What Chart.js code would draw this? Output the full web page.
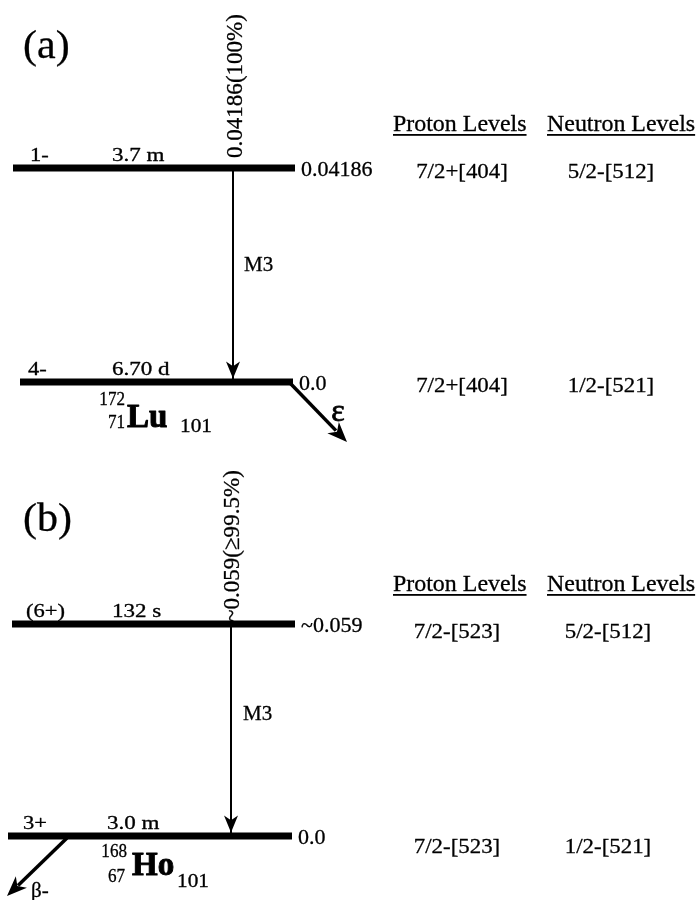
<!DOCTYPE html>
<html><head><meta charset="utf-8">
<script src="https://cdn.jsdelivr.net/npm/chart.js@4.4.1/dist/chart.umd.min.js"></script>
<style>html,body{margin:0;padding:0;background:#fff;}#wrap{position:relative;width:698px;height:900px;}
.pre{font-family:"Liberation Serif";position:absolute;left:-999px;top:0;}</style>
</head><body><span class="pre">Aa ε β ≥</span><span class="pre" style="font-weight:bold">Lu Ho</span>
<div id="wrap"><canvas id="c"></canvas></div>
<script>
// ================= DATA =================
const panelTags = ['(a)', '(b)'];
const columnHeaders = ['Proton Levels', 'Neutron Levels'];

// (a) 172Lu
const levelEnergiesA = [0.04186, 0.0];
const energyLabelsA = ['0.04186', '0.0'];
const spinsA = ['1-', '4-'];
const halfLivesA = ['3.7 m', '6.70 d'];
const protonLevelsA = ['7/2+[404]', '7/2+[404]'];
const neutronLevelsA = ['5/2-[512]', '1/2-[521]'];
const gammaLabelA = '0.04186(100%)';
const gammaMultA = 'M3';
const nuclideA = ['172', '71', 'Lu', '101'];
const decayA = 'ε';

// (b) 168Ho
const levelEnergiesB = [0.059, 0.0];
const energyLabelsB = ['~0.059', '0.0'];
const spinsB = ['(6+)', '3+'];
const halfLivesB = ['132 s', '3.0 m'];
const protonLevelsB = ['7/2-[523]', '7/2-[523]'];
const neutronLevelsB = ['5/2-[512]', '1/2-[521]'];
const gammaLabelB = '~0.059(≥99.5%)';
const gammaMultB = 'M3';
const nuclideB = ['168', '67', 'Ho', '101'];
const decayB = 'β-';

// ================= LAYOUT (pixels, styles) =================
const W = 698, H = 900;
const FONT = '"Liberation Serif", serif';
const layout = {
  a: { axis: 'ya', yTop: 168, yBot: 382, lines: [[13, 295], [20, 293]], gammaX: 233,
       tag: [23, 47], spinX: [30, 28], hlX: [112, 112], hdrY: 125, orbDy: [4, 4],
       gLabX: 236, gLabDy: -10, multXY: [244, 265],
       nuc: { massX: 125, massDy: 23, zX: 125, zDy: 46, symX: 127, symDy: 45, nX: 180, nDy: 50 },
       protX: 462, neutX: 611 },
  b: { axis: 'yb', yTop: 624, yBot: 836, lines: [[12, 295], [8, 292]], gammaX: 231,
       tag: [23, 520], spinX: [26, 23], hlX: [112, 107], hdrY: 585, orbDy: [8, 11],
       gLabX: 233, gLabDy: -2, multXY: [243, 714],
       nuc: { massX: 127, massDy: 21, zX: 125, zDy: 46, symX: 132, symDy: 39, nX: 177, nDy: 51 },
       protX: 457, neutX: 608 }
};

function axisRange(E, yTop, yBot) {
  const per = (E[0] - E[1]) / (yBot - yTop);
  return { min: E[1] - (H - yBot) * per, max: E[0] + yTop * per };
}
const rA = axisRange(levelEnergiesA, layout.a.yTop, layout.a.yBot);
const rB = axisRange(levelEnergiesB, layout.b.yTop, layout.b.yBot);

function levelDatasets(E, L) {
  return E.map((e, i) => ({
    type: 'line', data: [{ x: L.lines[i][0], y: e }, { x: L.lines[i][1], y: e }],
    yAxisID: L.axis, borderColor: '#000', borderWidth: 7, pointRadius: 0, borderCapStyle: 'butt', clip: false
  }));
}
function gammaDataset(E, L) {
  return { type: 'line', data: [{ x: L.gammaX, y: E[0] }, { x: L.gammaX, y: E[1] }],
    yAxisID: L.axis, borderColor: '#000', borderWidth: 2, pointRadius: 0, clip: false };
}

function txt(ctx, s, x, y, o) {
  ctx.save();
  ctx.translate(x, y);
  if (o.rot) ctx.rotate(o.rot);
  ctx.scale(o.sx || 1, 1);
  ctx.font = (o.bold ? 'bold ' : '') + o.size + 'px ' + FONT;
  ctx.textAlign = o.align || 'left';
  ctx.textBaseline = o.base || 'alphabetic';
  ctx.fillStyle = '#000';
  ctx.strokeStyle = '#000';
  ctx.lineWidth = o.heavy === undefined ? 0.3 : o.heavy;
  ctx.lineJoin = 'round';
  ctx.fillText(s, 0, 0);
  if (ctx.lineWidth > 0) ctx.strokeText(s, 0, 0);
  if (o.underline) {
    const w = ctx.measureText(s).width;
    ctx.fillRect(0, o.underline, w, 1.8);
  }
  ctx.restore();
}
function arrowHead(ctx, x1, y1, x2, y2, len, hw) {
  const a = Math.atan2(y2 - y1, x2 - x1);
  const c = Math.cos(a), s = Math.sin(a);
  const bx = x2 - len * c, by = y2 - len * s;
  ctx.beginPath();
  ctx.moveTo(x2, y2);
  ctx.lineTo(bx - hw * s, by + hw * c);
  ctx.lineTo(x2 - len * 0.72 * c, y2 - len * 0.72 * s);
  ctx.lineTo(bx + hw * s, by - hw * c);
  ctx.closePath();
  ctx.fill();
}

function drawPanel(chart, ctx, L, tag, E, eLab, spins, hls, prot, neut, gLab, gMult, nuc) {
  const ys = chart.scales[L.axis];
  const yT = ys.getPixelForValue(E[0]);
  const yB = ys.getPixelForValue(E[1]);
  const lv = [yT, yB];
  txt(ctx, tag, L.tag[0], L.tag[1], { size: 40, base: 'middle', sx: 1.05 });
  for (let i = 0; i < 2; i++) {
    txt(ctx, spins[i], L.spinX[i], lv[i] - 7, { size: 18, sx: 1.25 });
    txt(ctx, hls[i], L.hlX[i], lv[i] - 7, { size: 18, sx: 1.28 });
    txt(ctx, eLab[i], L.lines[i][1] + 6, lv[i] + 2, { size: 22, base: 'middle' });
    txt(ctx, prot[i], L.protX, lv[i] + L.orbDy[i], { size: 22, sx: 1.04, align: 'center', base: 'middle' });
    txt(ctx, neut[i], L.neutX, lv[i] + L.orbDy[i], { size: 22, sx: 1.04, align: 'center', base: 'middle' });
  }
  txt(ctx, columnHeaders[0], 393, L.hdrY, { size: 23, sx: 1.04, base: 'middle', underline: 9 });
  txt(ctx, columnHeaders[1], 547, L.hdrY, { size: 23, sx: 1.04, base: 'middle', underline: 9 });
  // gamma label (rotated) and multipolarity
  txt(ctx, gLab, L.gLabX, yT + L.gLabDy, { size: 24, sx: 0.96, rot: -Math.PI / 2, base: 'middle' });
  txt(ctx, gMult, L.multXY[0], L.multXY[1], { size: 21, base: 'middle' });
  // gamma arrow head
  ctx.fillStyle = '#000';
  const gx = chart.scales.x.getPixelForValue(L.gammaX);
  arrowHead(ctx, gx, yT, gx, yB - 3.5, 17, 7);
  // nuclide label
  const n = L.nuc;
  txt(ctx, nuc[0], n.massX, yB + n.massDy, { size: 18, sx: 0.95, align: 'right' });
  txt(ctx, nuc[1], n.zX, yB + n.zDy, { size: 18, sx: 0.95, align: 'right' });
  txt(ctx, nuc[2], n.symX, yB + n.symDy, { size: 33, bold: true, heavy: 0 });
  txt(ctx, nuc[3], n.nX, yB + n.nDy, { size: 19, sx: 1.12 });
  return lv;
}

const annot = {
  id: 'annot',
  afterDatasetsDraw(chart) {
    const ctx = chart.ctx;
    const X = chart.scales.x;
    ctx.save();
    const lvA = drawPanel(chart, ctx, layout.a, panelTags[0], levelEnergiesA, energyLabelsA, spinsA, halfLivesA,
      protonLevelsA, neutronLevelsA, gammaLabelA, gammaMultA, nuclideA);
    const lvB = drawPanel(chart, ctx, layout.b, panelTags[1], levelEnergiesB, energyLabelsB, spinsB, halfLivesB,
      protonLevelsB, neutronLevelsB, gammaLabelB, gammaMultB, nuclideB);
    // decay arrows
    ctx.strokeStyle = '#000'; ctx.fillStyle = '#000'; ctx.lineWidth = 3.5;
    // epsilon from (a) ground level right end
    let x1 = X.getPixelForValue(290), y1 = lvA[1] + 1, x2 = x1 + 57, y2 = y1 + 59;
    ctx.beginPath(); ctx.moveTo(x1, y1); ctx.lineTo(x2 - 11, y2 - 11.4); ctx.stroke();
    arrowHead(ctx, x1, y1, x2, y2, 20, 8);
    txt(ctx, decayA, x1 + 48, y1 + 30, { size: 32, align: 'center', base: 'middle', heavy: 0.8 });
    // beta- from (b) ground level
    x1 = X.getPixelForValue(67); y1 = lvB[1] + 2; x2 = x1 - 60; y2 = y1 + 58;
    ctx.lineWidth = 3.5;
    ctx.beginPath(); ctx.moveTo(x1, y1); ctx.lineTo(x2 + 11, y2 - 10.6); ctx.stroke();
    arrowHead(ctx, x1, y1, x2, y2, 20, 8);
    txt(ctx, decayB, 31, y1 + 59, { size: 21 });
    ctx.restore();
  }
};

const datasets = [
  ...levelDatasets(levelEnergiesA, layout.a), gammaDataset(levelEnergiesA, layout.a),
  ...levelDatasets(levelEnergiesB, layout.b), gammaDataset(levelEnergiesB, layout.b)
];

function build() {
  new Chart(document.getElementById('c'), {
    type: 'line',
    data: { datasets },
    options: {
      responsive: true, maintainAspectRatio: false, animation: false,
      layout: { padding: 0 },
      plugins: { legend: { display: false }, tooltip: { enabled: false } },
      scales: {
        x: { type: 'linear', display: false, min: 0, max: W },
        ya: { type: 'linear', display: false, min: rA.min, max: rA.max },
        yb: { type: 'linear', display: false, min: rB.min, max: rB.max }
      }
    },
    plugins: [annot]
  });
}
Promise.all([
  document.fonts.load('20px "Liberation Serif"'),
  document.fonts.load('bold 20px "Liberation Serif"')
]).then(build, build);
</script></body></html>
